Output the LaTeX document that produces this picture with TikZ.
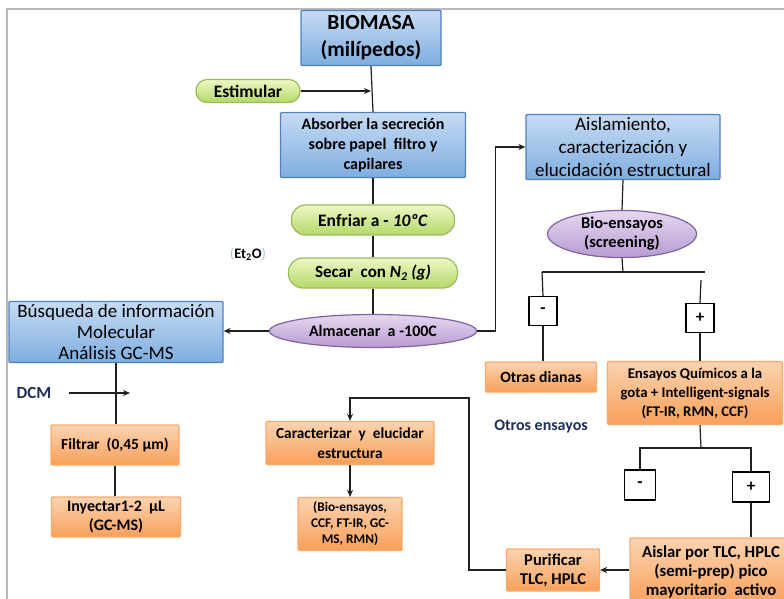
\documentclass[tikz,border=0pt]{standalone}
\usepackage{fontspec}
\setmainfont{Carlito}
\usepackage{tikz}
\usepackage{xcolor}
\usetikzlibrary{arrows.meta,shapes.geometric}
\definecolor{bordeazul}{HTML}{4F81BD}
\definecolor{azulA}{HTML}{C6DBF3}
\definecolor{azulB}{HTML}{7FADE0}
\definecolor{bordeverde}{HTML}{9BBB59}
\definecolor{verdeA}{HTML}{EEF8C4}
\definecolor{verdeB}{HTML}{B4D86A}
\definecolor{bordelila}{HTML}{8064A2}
\definecolor{lilaA}{HTML}{E6D8F0}
\definecolor{lilaB}{HTML}{B89BD2}
\definecolor{bordenaranja}{HTML}{F79646}
\definecolor{naranjaA}{HTML}{FBD3B0}
\definecolor{naranjaB}{HTML}{F8A05A}
\definecolor{tinta}{HTML}{1F1F1F}
\definecolor{marino}{HTML}{1F2D5A}
\tikzset{%
  tipA/.tip={Stealth[length=7pt,width=6pt]},
  linea/.style={line width=1.2pt, tinta},
  cajazul/.style={draw=bordeazul, line width=1.2pt, top color=azulA, bottom color=azulB,
    rounded corners=1pt, align=center, text=black, inner sep=1pt},
  pildora/.style={draw=bordeverde, line width=1.2pt, top color=verdeA, bottom color=verdeB,
    rounded corners=14pt, align=center, text=black, inner sep=1pt, font=\bfseries\fontsize{17.5}{20}\selectfont},
  elipse/.style={ellipse, draw=bordelila, line width=1.2pt, top color=lilaA, bottom color=lilaB,
    align=center, inner sep=0pt, text=black},
  naranja/.style={draw=bordenaranja!80, line width=1.2pt, top color=naranjaA, bottom color=naranjaB,
    rounded corners=1pt, align=center, text=black, inner sep=1pt},
  signo/.style={draw=black, line width=1.3pt, fill=white, minimum width=28pt, minimum height=29pt,
    font=\bfseries\fontsize{17}{17}\selectfont},
}

\begin{document}
\begin{tikzpicture}[x=1pt,y=-1pt]
\clip (0,0) rectangle (784,599);
\draw[gray!55, line width=1.6pt] (7,599) -- (7,9) -- (784,9);
% columna central
\node[cajazul, minimum width=140pt, minimum height=55pt, font=\bfseries\fontsize{21.5}{27}\selectfont] (biomasa) at (371,38) {BIOMASA\\(milípedos)};
\node[pildora, minimum width=104pt, minimum height=23pt, rounded corners=11pt] (estimular) at (248,91) {Estimular};
\node[cajazul, minimum width=185pt, minimum height=65pt, font=\bfseries\fontsize{16}{20}\selectfont] (absorber) at (373,145) {Absorber la secreción\\sobre papel \ filtro y\\capilares};
\node[pildora, minimum width=163pt, minimum height=30pt] (enfriar) at (373,220) {Enfriar a - \textit{10ºC}};
\node[pildora, minimum width=169pt, minimum height=30pt, font=\bfseries\fontsize{17}{20}\selectfont] (secar) at (373,273) {Secar \ con \textit{N\textsubscript{2} (g)}};
\node[font=\bfseries\fontsize{14.5}{16}\selectfont] (eter) at (248,254) {{\color{bordeazul!50}\mdseries(}Et\textsubscript{2}O{\color{bordeazul!50}\mdseries)}};
\node[elipse, minimum width=207pt, minimum height=33pt, font=\bfseries\fontsize{16}{18}\selectfont] (almacenar) at (373,331) {Almacenar \ a -100C};
% izquierda
\node[cajazul, minimum width=214pt, minimum height=61pt, font=\fontsize{19}{21}\selectfont] (busqueda) at (116,332) {Búsqueda de información\\Molecular\\Análisis GC-MS};
\node[font=\bfseries\fontsize{17}{18}\selectfont, text=marino] (dcm) at (34,393) {DCM};
\node[naranja, minimum width=128pt, minimum height=40pt, font=\bfseries\fontsize{15.5}{18}\selectfont] (filtrar) at (115,445) {Filtrar \ (0,45 μm)};
\node[naranja, minimum width=129pt, minimum height=40pt, font=\bfseries\fontsize{16}{19}\selectfont] (inyectar) at (116,517) {Inyectar1-2 \ μL\\(GC-MS)};
% derecha
\node[cajazul, minimum width=194pt, minimum height=65pt, font=\fontsize{19}{23}\selectfont] (aislamiento) at (623,147) {Aislamiento,\\caracterización y\\elucidación estructural};
\node[elipse, minimum width=149pt, minimum height=43pt, font=\bfseries\fontsize{16.5}{19}\selectfont] (bioensayos) at (622,234) {Bio-ensayos\\(screening)};
\coordinate (nudoA) at (623,272);
\coordinate (extIzqA) at (542,272);
\coordinate (extDerA) at (705,272);
\coordinate (arranqueA) at (701,280);
\node[signo] (menosA) at (543,311) {-};
\node[signo] (masA) at (700,318) {+};
\node[naranja, minimum width=111pt, minimum height=30pt, font=\bfseries\fontsize{15.7}{18}\selectfont] (otras) at (541,377) {Otras dianas};
\node[naranja, minimum width=175pt, minimum height=63pt, font=\bfseries\fontsize{14.8}{19}\selectfont] (ensayos) at (695,393) {Ensayos Químicos a la\\gota + Intelligent-signals\\(FT-IR, RMN, CCF)};
\node[font=\bfseries\fontsize{16}{18}\selectfont, text=marino] (otros) at (541,427) {Otros ensayos};
\coordinate (nudoB) at (701,448);
\node[signo, minimum width=31pt, minimum height=30pt] (menosB) at (640,485) {-};
\node[signo, minimum width=37pt, minimum height=30pt] (masB) at (751,487) {+};
\node[naranja, minimum width=162pt, minimum height=68pt, font=\bfseries\fontsize{16.7}{19}\selectfont] (aislar) at (711,572) {Aislar por TLC, HPLC\\(semi-prep) pico\\mayoritario \ activo};
\node[naranja, minimum width=93pt, minimum height=42pt, font=\bfseries\fontsize{16.5}{19}\selectfont] (purificar) at (553,570) {Purificar\\TLC, HPLC};
\coordinate (retorno) at (469,398);
\node[naranja, minimum width=168pt, minimum height=43pt, font=\bfseries\fontsize{15.3}{20}\selectfont] (caracterizar) at (350,443) {Caracterizar \ y \ elucidar\\estructura};
\node[naranja, minimum width=104pt, minimum height=53pt, font=\bfseries\fontsize{13.3}{16}\selectfont] (tecnicas) at (350,524) {(Bio-ensayos,\\CCF, FT-IR, GC-\\MS, RMN)};
% conectores
\draw[linea] (biomasa.south) -- (absorber.north);
\draw[linea, -tipA] (estimular.east) -- (estimular.east -| biomasa.south);
\draw[linea] (absorber.south) -- (enfriar.north);
\draw[linea] (enfriar.south) -- (secar.north);
\draw[linea] (secar.south) -- (almacenar.north);
\draw[linea, -tipA] (almacenar.west) -- (almacenar.west -| busqueda.east);
\draw[linea, -tipA] (almacenar.east) -- ++(18,0) |- (aislamiento.west);
\draw[linea] (aislamiento.south) -- (bioensayos.north);
\draw[linea] (bioensayos.south) -- (nudoA);
\draw[linea] (extIzqA) -- (extDerA);
\draw[linea] (extIzqA) -- (menosA.north);
\draw[linea] (arranqueA) -- (masA.north);
\draw[linea] (menosA.south) -- (menosA.south |- otras.north);
\draw[linea] (masA.south) -- (masA.south |- ensayos.north);
\draw[linea] (masA.south |- ensayos.south) -- (nudoB);
\draw[linea] (menosB.north) |- (nudoB) -| (masB.north);
\draw[linea] (masB.south) -- (masB.south |- aislar.north);
\draw[linea, -tipA] (aislar.west |- purificar) -- (purificar.east);
\draw[linea, -tipA] (purificar.west) -| (retorno) -| (caracterizar.north);
\draw[linea, -tipA] (caracterizar.south) -- (tecnicas.north);
\draw[linea] (busqueda.south) -- (busqueda.south |- filtrar.north);
\draw[linea, -tipA] ([xshift=14pt]dcm.east) -- ([xshift=14pt]dcm.east -| busqueda.south);
\draw[linea] (filtrar.south) -- (filtrar.south |- inyectar.north);
\end{tikzpicture}
\end{document}
